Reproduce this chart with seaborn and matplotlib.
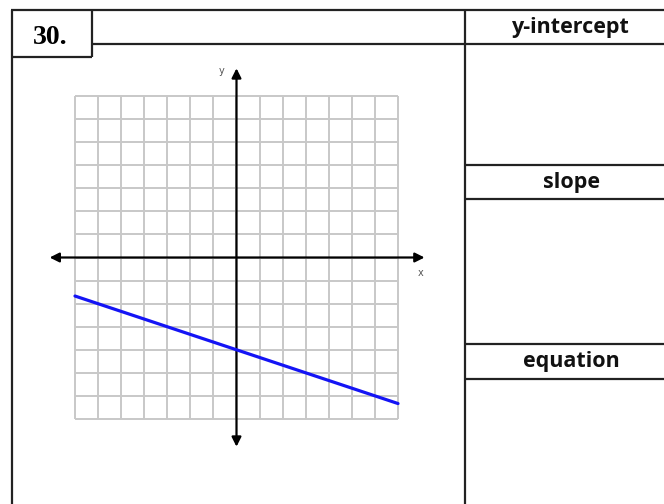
import matplotlib
matplotlib.use("Agg")
import matplotlib.pyplot as plt
import seaborn as sns
import pandas as pd

# Data for the graphed line
line_x = [-7, 7]
line_y = [-1.67, -6.33]

# Grid extent (units) and table labels
grid_ticks = list(range(-7, 8))
problem_label = "30."
row_labels = ["y-intercept", "slope", "equation"]

sns.set_theme(style="white")
plt.rcParams['font.family'] = ['Open Sans', 'DejaVu Sans']

W, H = 664, 504
fig = plt.figure(figsize=(W / 100, H / 100), dpi=100)

# background axes in pixel coordinates for the worksheet table
bg = fig.add_axes([0, 0, 1, 1])
bg.set_xlim(0, W)
bg.set_ylim(H, 0)
bg.axis('off')

line_kw = dict(color='#222222', lw=1.6, solid_capstyle='butt')
bg.plot([11, W], [10, 10], **line_kw)
bg.plot([11.5, 11.5], [10, H], **line_kw)
bg.plot([91.7, 91.7], [10, 57.3], **line_kw)
bg.plot([11, 91.7], [57.3, 57.3], **line_kw)
bg.plot([91.7, W], [44, 44], **line_kw)
bg.plot([465, 465], [10, H], **line_kw)
for yy in [165, 199, 343.5, 378.5]:
    bg.plot([465, W], [yy, yy], **line_kw)

bg.text(50, 37.5, problem_label, ha='center', va='center', fontsize=20,
        fontweight='bold', family=['Liberation Serif', 'DejaVu Serif'], color='black')
for lab, yy in zip(row_labels, [27.5, 182.5, 361.5]):
    bg.text(571, yy, lab, ha='center', va='center', fontsize=15.5,
            fontweight='bold', color='#111111')

# coordinate grid axes: -7..7 maps to 75..398 px
unit = 323 / 14
cx, cy = 236.5, 257.5
span = 9
left = (cx - span * unit) / W
bottom = (H - (cy + span * unit)) / H
ax = fig.add_axes([left, bottom, 2 * span * unit / W, 2 * span * unit / H])
ax.set_xlim(-span, span)
ax.set_ylim(-span, span)
ax.axis('off')

ax.vlines(grid_ticks, -7, 7, color='#c8c8c8', lw=1.4, zorder=1)
ax.hlines(grid_ticks, -7, 7, color='#c8c8c8', lw=1.4, zorder=1)

arrow = dict(arrowstyle='<|-|>', color='black', lw=1.6,
             mutation_scale=14, shrinkA=0, shrinkB=0)
ax.annotate('', xy=(8.15, 0), xytext=(-8.1, 0), arrowprops=arrow, zorder=3)
ax.annotate('', xy=(0, 8.2), xytext=(0, -8.2), arrowprops=arrow, zorder=3)
ax.text(-0.64, 8.1, 'y', ha='center', va='center', fontsize=7,
        color='#555555', family=['DejaVu Sans'])
ax.text(8.0, -0.66, 'x', ha='center', va='center', fontsize=7,
        color='#555555', family=['DejaVu Sans'])

df = pd.DataFrame({'x': line_x, 'y': line_y})
sns.lineplot(data=df, x='x', y='y', ax=ax, color='#1414f5', lw=2.3, zorder=4)
ax.axis('off')

fig.savefig('out.png', dpi=100)
